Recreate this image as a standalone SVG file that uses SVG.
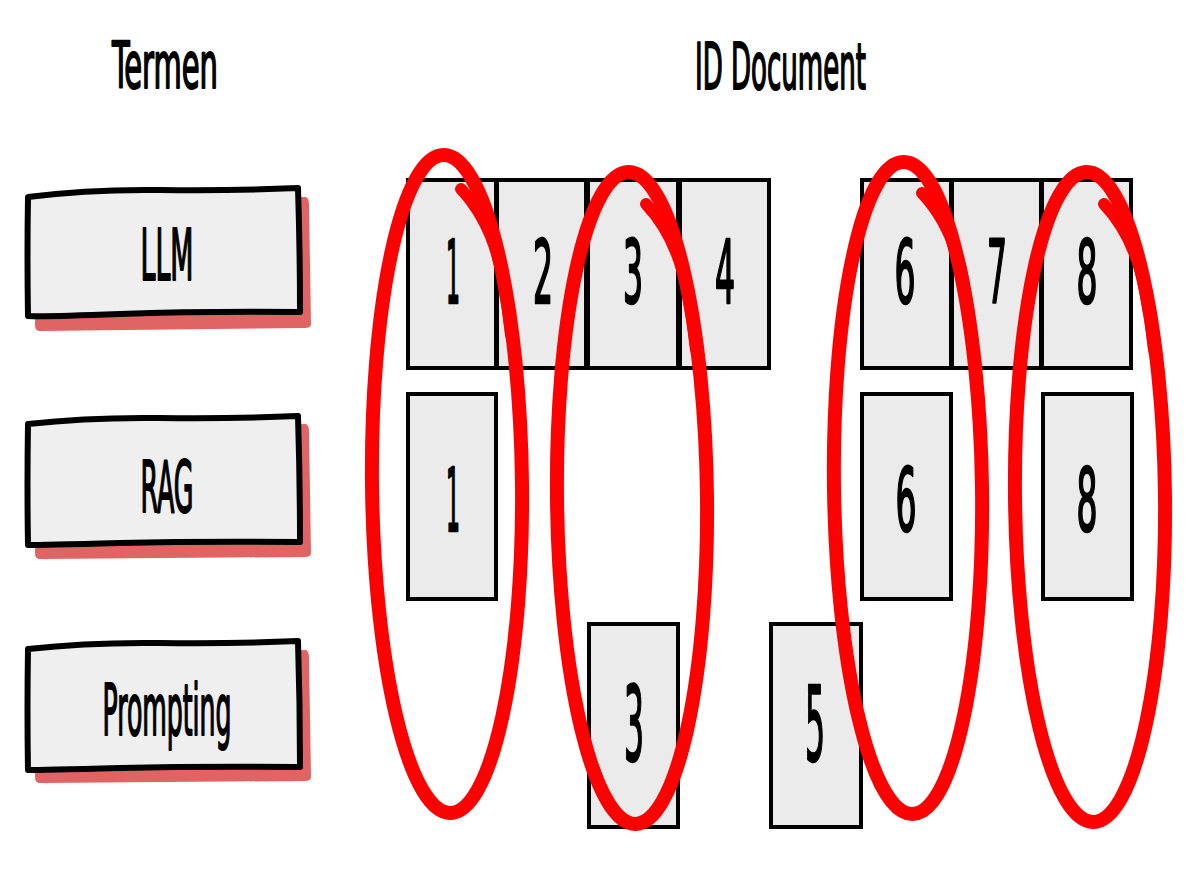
<svg xmlns="http://www.w3.org/2000/svg" width="1200" height="896" viewBox="0 0 1200 896">
<style>
.title{font-family:"DejaVu Sans Condensed","DejaVu Sans",sans-serif;font-size:64px;fill:#000;stroke:#000;stroke-width:2;stroke-linejoin:round}
.lbl{font-family:"DejaVu Sans Condensed","DejaVu Sans",sans-serif;font-size:72px;fill:#000;stroke:#000;stroke-width:2;stroke-linejoin:round;text-anchor:middle}
.num{font-family:"DejaVu Sans Condensed","DejaVu Sans",sans-serif;font-size:88px;fill:#000;stroke:#000;stroke-width:2.5;stroke-linejoin:round;text-anchor:middle}
.num3{font-family:"DejaVu Sans Condensed","DejaVu Sans",sans-serif;font-size:104px;fill:#000;stroke:#000;stroke-width:2.5;stroke-linejoin:round;text-anchor:middle}
.term{fill:#efefef;stroke:#000;stroke-width:6;stroke-linejoin:round}
.shadow{fill:#e06464}
.doc{fill:#ebebeb;stroke:#000;stroke-width:4}
.ring{fill:none;stroke:#ff0000;stroke-width:14;stroke-linecap:round}
.hook{fill:none;stroke:#ff0000;stroke-width:12;stroke-linecap:round}
</style>
<rect width="1200" height="896" fill="#ffffff"/>
<text class="title" x="112" y="88" textLength="106" lengthAdjust="spacingAndGlyphs">Termen</text>
<text class="title" x="695" y="89" textLength="171" lengthAdjust="spacingAndGlyphs">ID Document</text>

<g id="term-llm">
<path class="shadow" d="M36,206 L306,197 Q309,198 309,205 L311,324 Q311,328 305,328 L40,331 Q35,331 35,325 Z"/>
<path class="term" d="M28,197 Q90,189 160,190 T298,188 Q300,250 300,312 Q200,311 120,314 T28,316 Q27,255 28,197 Z"/>
<text class="lbl" x="167" y="280" textLength="53" lengthAdjust="spacingAndGlyphs">LLM</text>
</g>
<g id="term-rag">
<path class="shadow" d="M36,433 L306,424 Q309,425 309,432 L311,553 Q311,557 305,557 L40,559 Q35,559 35,553 Z"/>
<path class="term" d="M28,424 Q90,417 160,418 T298,416 Q300,480 300,542 Q200,541 120,543 T28,545 Q27,485 28,424 Z"/>
<text class="lbl" x="167" y="512" textLength="53" lengthAdjust="spacingAndGlyphs">RAG</text>
</g>
<g id="term-prompting">
<path class="shadow" d="M36,658 L306,650 Q309,651 309,658 L311,777 Q311,781 305,781 L40,783 Q35,783 35,777 Z"/>
<path class="term" d="M28,649 Q90,642 160,643 T298,641 Q300,705 300,767 Q200,766 120,768 T28,770 Q27,710 28,649 Z"/>
<text class="lbl" x="167" y="735" textLength="129" lengthAdjust="spacingAndGlyphs">Prompting</text>
</g>

<g id="doc-row-llm">
<g id="llm-1"><rect class="doc" x="408" y="180" width="88" height="188"/><text class="num" x="453" y="303" textLength="14" lengthAdjust="spacingAndGlyphs">1</text></g>
<g id="llm-2"><rect class="doc" x="497" y="180" width="89" height="188"/><text class="num" x="543" y="303" textLength="20" lengthAdjust="spacingAndGlyphs">2</text></g>
<g id="llm-3"><rect class="doc" x="588" y="180" width="90" height="188"/><text class="num" x="633" y="303" textLength="20" lengthAdjust="spacingAndGlyphs">3</text></g>
<g id="llm-4"><rect class="doc" x="680" y="180" width="89" height="188"/><text class="num" x="725" y="303" textLength="20" lengthAdjust="spacingAndGlyphs">4</text></g>
<g id="llm-6"><rect class="doc" x="862" y="180" width="89" height="188"/><text class="num" x="905" y="303" textLength="21" lengthAdjust="spacingAndGlyphs">6</text></g>
<g id="llm-7"><rect class="doc" x="952" y="180" width="89" height="188"/><text class="num" x="997" y="303" textLength="20" lengthAdjust="spacingAndGlyphs">7</text></g>
<g id="llm-8"><rect class="doc" x="1042" y="180" width="89" height="188"/><text class="num" x="1087" y="303" textLength="21" lengthAdjust="spacingAndGlyphs">8</text></g>
</g>
<g id="doc-row-rag">
<g id="rag-1"><rect class="doc" x="408" y="394" width="88" height="205"/><text class="num" x="453" y="531" textLength="14" lengthAdjust="spacingAndGlyphs">1</text></g>
<g id="rag-6"><rect class="doc" x="862" y="394" width="89" height="205"/><text class="num" x="906" y="531" textLength="21" lengthAdjust="spacingAndGlyphs">6</text></g>
<g id="rag-8"><rect class="doc" x="1043" y="394" width="89" height="205"/><text class="num" x="1087" y="531" textLength="21" lengthAdjust="spacingAndGlyphs">8</text></g>
</g>
<g id="doc-row-prompting">
<g id="prompt-3"><rect class="doc" x="589" y="624" width="89" height="203"/><text class="num3" x="634" y="761" textLength="20" lengthAdjust="spacingAndGlyphs">3</text></g>
<g id="prompt-5"><rect class="doc" x="771" y="624" width="90" height="203"/><text class="num3" x="815" y="761" textLength="20" lengthAdjust="spacingAndGlyphs">5</text></g>
</g>

<g id="connectors">
<g id="ring-1">
<ellipse class="ring" cx="447" cy="484" rx="75" ry="329" transform="rotate(-0.6 447 484)"/>
<path class="hook" d="M461,189 Q492,222 502,275 Q508,305 511,335"/>
</g>
<g id="ring-3">
<ellipse class="ring" cx="632" cy="498" rx="75" ry="326" transform="rotate(-0.6 632 498)"/>
<path class="hook" d="M646,204 Q677,237 687,290 Q693,320 696,350"/>
</g>
<g id="ring-6">
<ellipse class="ring" cx="908" cy="488" rx="74" ry="326" transform="rotate(-0.8 908 488)"/>
<path class="hook" d="M922,193 Q953,226 963,279 Q969,309 972,339"/>
</g>
<g id="ring-8">
<ellipse class="ring" cx="1090" cy="497" rx="75" ry="325" transform="rotate(-0.6 1090 497)"/>
<path class="hook" d="M1104,204 Q1135,237 1145,290 Q1151,320 1154,350"/>
</g>
</g>
</svg>
